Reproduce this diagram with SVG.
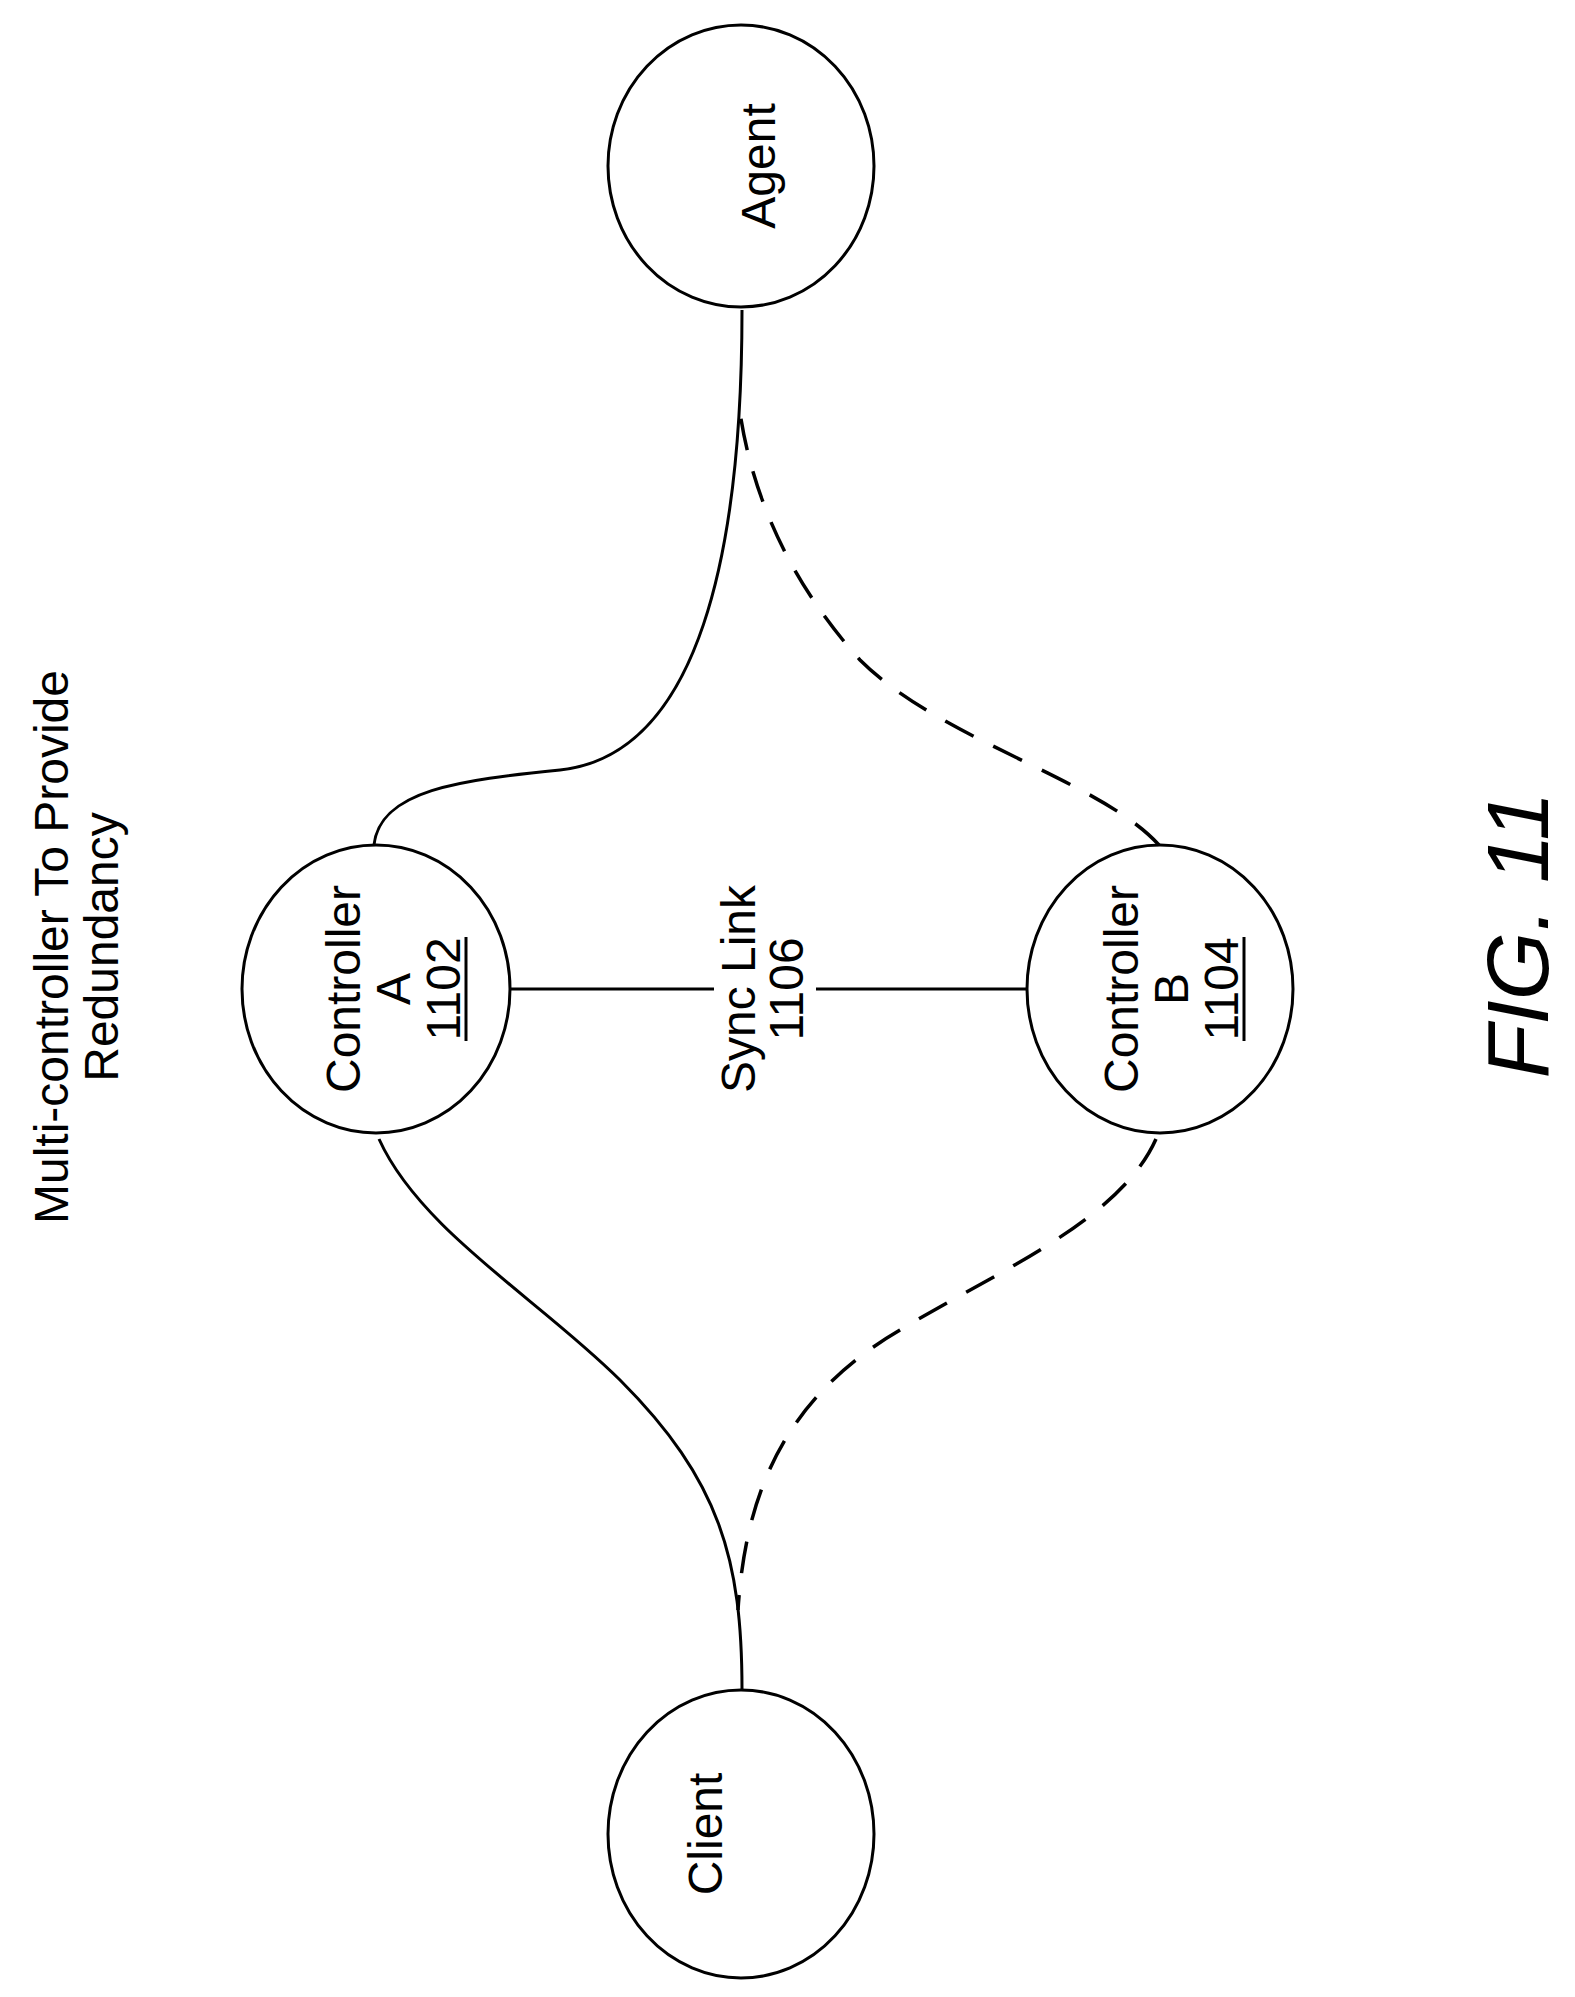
<svg xmlns="http://www.w3.org/2000/svg" width="1575" height="1997" viewBox="0 0 1575 1997">
<style>
.n{fill:none;stroke:#000;stroke-width:3}
.c{fill:none;stroke:#000;stroke-width:3}
.d{stroke-dasharray:32 22;stroke-width:3.5}
text{font-family:"Liberation Sans",Arial,sans-serif;font-size:48px;fill:#000;text-anchor:middle}
</style>
<rect width="1575" height="1997" fill="#fff"/>
<text transform="translate(68,947) rotate(-90)">Multi-controller To Provide</text>
<text transform="translate(118,947) rotate(-90)">Redundancy</text>
<g id="connectors">
<path class="c" d="M374,845 C380,790 460,780 560,770 C700,755 742,550 742,310"/>
<path class="c" d="M379,1139 C420,1230 540,1300 620,1380 C720,1480 742,1560 742,1690"/>
<path class="c d" d="M1159,845 C1100,780 940,740 860,660 C770,560 745,460 738,397"/>
<path class="c d" d="M1156,1139 C1120,1220 1000,1270 900,1330 C780,1400 745,1500 738,1610"/>
<path class="c" d="M510,989 H714 M816,989 H1027"/>
<text transform="translate(755,989) rotate(-90)">Sync Link</text>
<text transform="translate(803,989) rotate(-90)">1106</text>
</g>
<g id="agent"><ellipse class="n" cx="741" cy="166" rx="133" ry="141"/>
<text transform="translate(775,166) rotate(-90)">Agent</text></g>
<g id="client"><ellipse class="n" cx="741" cy="1834" rx="133" ry="144"/>
<text transform="translate(722,1834) rotate(-90)">Client</text></g>
<g id="controllerA"><ellipse class="n" cx="376" cy="989" rx="134" ry="144"/>
<text transform="translate(360,989) rotate(-90)">Controller</text>
<text transform="translate(410,989) rotate(-90)">A</text>
<text transform="translate(460,989) rotate(-90)">1102</text>
<line x1="466" y1="937" x2="466" y2="1041" stroke="#000" stroke-width="3"/></g>
<g id="controllerB"><ellipse class="n" cx="1160" cy="989" rx="133" ry="144"/>
<text transform="translate(1138,989) rotate(-90)">Controller</text>
<text transform="translate(1188,989) rotate(-90)">B</text>
<text transform="translate(1238,989) rotate(-90)">1104</text>
<line x1="1244" y1="937" x2="1244" y2="1041" stroke="#000" stroke-width="3"/></g>
<text transform="translate(1548,935) rotate(-90)" style="font-size:88px;font-style:italic">FIG. 11</text>
</svg>
